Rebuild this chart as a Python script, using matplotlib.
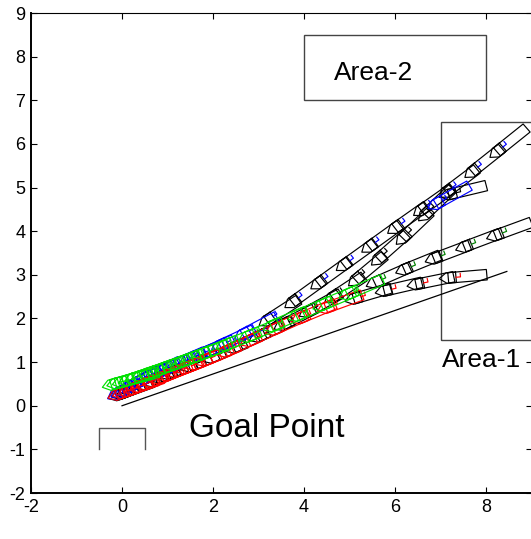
import numpy as np
import matplotlib.pyplot as plt

plt.rcParams['font.family'] = ['Liberation Sans', 'DejaVu Sans']
plt.rcParams['axes.unicode_minus'] = False

x_ticks = [-2, 0, 2, 4, 6, 8]
y_ticks = [-2, -1, 0, 1, 2, 3, 4, 5, 6, 7, 8, 9]

# cab centres of each run (start -> goal)
a_x = [8.24, 7.69, 7.13, 6.57, 6.00, 5.43, 4.87, 4.31, 3.74, 3.18, 2.65, 2.15, 1.68, 1.45, 1.25, 1.04, 0.86, 0.68,
       0.52, 0.37, 0.24, 0.12, 0.02, -0.07, -0.14]
a_y = [5.82, 5.36, 4.90, 4.48, 4.07, 3.64, 3.22, 2.80, 2.37, 1.95, 1.63, 1.38, 1.16, 1.06, 0.97, 0.88, 0.79, 0.71,
       0.63, 0.55, 0.48, 0.41, 0.35, 0.30, 0.26]

b_x = [7.18, 6.66, 6.17, 5.63, 5.13, 4.62, 4.07, 3.52, 2.98, 2.45, 1.95, 1.47, 1.03, 0.83, 0.64, 0.47, 0.32, 0.18,
       0.06, -0.04, -0.12]
b_y = [4.84, 4.38, 3.84, 3.36, 2.88, 2.48, 2.15, 1.85, 1.58, 1.33, 1.10, 0.90, 0.72, 0.64, 0.56, 0.49, 0.42, 0.36,
       0.31, 0.27, 0.24]

c_x = [8.20, 7.52, 6.85, 6.20, 5.55, 4.95, 4.38, 3.83, 3.28, 2.75, 2.25, 1.77, 1.55, 1.32, 1.12, 0.92, 0.74,
       0.56, 0.40, 0.25, 0.11, -0.02, -0.14, -0.24]
c_y = [3.90, 3.64, 3.37, 3.12, 2.82, 2.55, 2.30, 2.06, 1.82, 1.58, 1.38, 1.19, 1.10, 1.02, 0.94, 0.87, 0.80,
       0.74, 0.68, 0.63, 0.58, 0.54, 0.51, 0.48]

d_x = [7.17, 6.46, 5.76, 5.09, 4.48, 3.90, 3.33, 2.78, 2.27, 1.80, 1.58, 1.37, 1.17, 0.98, 0.80, 0.64, 0.49,
       0.35, 0.22, 0.10, -0.02, -0.12]
d_y = [2.93, 2.78, 2.63, 2.45, 2.24, 2.00, 1.74, 1.48, 1.24, 1.03, 0.94, 0.85, 0.77, 0.69, 0.62, 0.55, 0.49,
       0.43, 0.38, 0.33, 0.29, 0.25]

# (x, y, tick colour, colour used once the run gets close, x below which it is coloured, start heading)
runs = [
    (b_x, b_y, 'k', 'k', -9, 14),
    (a_x, a_y, 'b', 'b', 2.8, None),
    (d_x, d_y, 'r', 'r', 4.7, 5),
    (c_x, c_y, 'g', '#00e000', 5.1, None),
]

area2 = (4, 7, 4, 1.5)
area1 = (7, 1.5, 3, 5)
ref_len = 9.0
ref_deg = 20


def draw_truck(ax, cx, cy, ang, col, tcol):
    d = np.array([np.cos(ang), np.sin(ang)])
    n = np.array([-d[1], d[0]])
    c = np.array([cx, cy])
    hw = 0.12
    body = [c + hw * n, c + 0.85 * d + hw * n, c + 0.85 * d - hw * n, c - hw * n, c + hw * n]
    cab = [c + 0.17 * d + hw * n, c + hw * n - 0.04 * d, c - 0.2 * d, c - hw * n - 0.04 * d,
           c + 0.17 * d - hw * n, c + 0.17 * d + hw * n]
    for pts in (body, cab):
        pts = np.array(pts)
        ax.plot(pts[:, 0], pts[:, 1], color=col, lw=0.85)
    t = np.array([c + 0.17 * d, c + 0.27 * d, c + 0.27 * d + 0.08 * n])
    ax.plot(t[:, 0], t[:, 1], color=tcol, lw=0.85)


fig = plt.figure(figsize=(5.31, 5.39), dpi=100)
ax = fig.add_axes([0.0584, 0.0853, 0.9426, 0.8905])

for xs, ys, tcol, ccol, xcol, start in runs:
    xs = np.array(xs)
    ys = np.array(ys)
    for i in range(len(xs)):
        if i == 0:
            if start is not None:
                ang = np.radians(start)
            else:
                ang = np.arctan2(ys[0] - ys[1], xs[0] - xs[1])
        elif i == len(xs) - 1:
            ang = np.arctan2(ys[i - 1] - ys[i], xs[i - 1] - xs[i])
        else:
            ang = np.arctan2(ys[i - 1] - ys[i + 1], xs[i - 1] - xs[i + 1])
        if xs[i] < xcol:
            draw_truck(ax, xs[i], ys[i], ang, ccol, ccol)
        else:
            draw_truck(ax, xs[i], ys[i], ang, 'k', tcol)

# blue outline where the second run turns
draw_truck(ax, 6.9, 4.62, np.radians(30), 'b', 'b')

ax.plot([0, ref_len * np.cos(np.radians(ref_deg))], [0, ref_len * np.sin(np.radians(ref_deg))],
        color='k', lw=0.9)

for x0, y0, w, h in (area2, area1):
    ax.add_patch(plt.Rectangle((x0, y0), w, h, fill=False, ec='#444444', lw=1.0))

ax.plot([-0.5, -0.5, 0.5, 0.5], [-1, -0.5, -0.5, -1], color='#555555', lw=1.0)

ax.text(5.52, 7.47, 'Area-2', fontsize=19, ha='center', va='baseline')
ax.text(7.9, 0.89, 'Area-1', fontsize=19, ha='center', va='baseline')
ax.text(3.17, -0.72, 'Goal Point', fontsize=24, ha='center', va='baseline')

ax.set_xlim(-2, 9)
ax.set_ylim(-2, 9)
ax.set_xticks(x_ticks)
ax.set_yticks(y_ticks)
ax.tick_params(direction='in', length=4, width=0.8, top=True, right=True, labelsize=13, pad=4)
ax.spines['right'].set_visible(False)
for s in ('left', 'bottom'):
    ax.spines[s].set_linewidth(1.4)
ax.spines['top'].set_linewidth(0.8)

fig.savefig('out.png', dpi=100)
